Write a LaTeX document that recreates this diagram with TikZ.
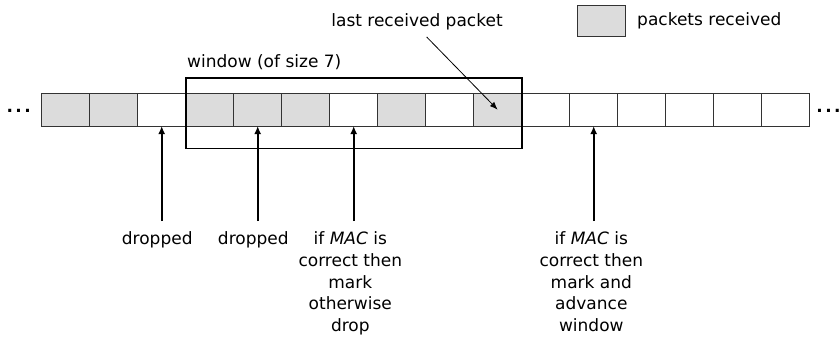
\documentclass[tikz,border=0pt]{standalone}
\usepackage{fontspec}
\setmainfont{DejaVu Sans}
\usetikzlibrary{arrows.meta}
\definecolor{recvgray}{HTML}{DCDCDC}
\definecolor{cellline}{HTML}{333333}
\begin{document}
\begin{tikzpicture}[x=1pt,y=-1pt,
  cell/.style={draw=cellline,line width=0.9pt,minimum width=48pt,minimum height=32.5pt,inner sep=0pt,outer sep=0pt},
  got/.style={cell,fill=recvgray},
  lbl/.style={font=\fontsize{17}{21.7}\selectfont,inner sep=0pt,align=center},
  dots/.style={font=\bfseries\fontsize{17}{20}\selectfont,inner sep=0pt},
  uparrow/.style={line width=1.9pt,-{Latex[length=8pt,width=7pt]}},
  pointer/.style={line width=0.8pt,-{Latex[length=8pt,width=6pt]}}]
\useasboundingbox (0,0) rectangle (840,337);

% the sequence of packet slots
\foreach \i/\s in {1/got,2/got,3/cell,4/got,5/got,6/got,7/cell,8/got,
                   9/cell,10/got,11/cell,12/cell,13/cell,14/cell,15/cell,16/cell}
  \node[\s] (p\i) at ({17.7+48*\i},109.75) {};

% continuation marks
\node[dots] (ldots) at (18.7,111) {.\hspace{2.5pt}.\hspace{2.5pt}.};
\node[dots] (rdots) at (828.5,111) {.\hspace{2.5pt}.\hspace{2.5pt}.};

% sliding window over slots 4..10
\node[draw,line width=1.9pt,minimum width=336pt,minimum height=70.5pt,inner sep=0pt] (win) at (353.7,113.25) {};
\node[lbl,anchor=base west] (winlbl) at (187,67.5) {window (of size 7)};

% legend
\node[got,minimum height=31pt] (key) at (601.5,21.2) {};
\node[lbl,anchor=base west] (keylbl) at (637,25.5) {packets received};

% last received packet pointer
\node[lbl,anchor=base] (lastlbl) at (417,26.5) {last received packet};
\coordinate (ptail) at (426.7,37);
\draw[pointer] (ptail) -- (p10.center);

% annotations below the slots
\node[lbl,anchor=north] (l3) at (157.2,231.6) {dropped};
\node[lbl,anchor=north] (l5) at (253.3,231.6) {dropped};
\node[lbl,anchor=north] (l7) at (350.3,231.6) {if \textit{MAC} is\\correct then\\mark\\otherwise\\drop};
\node[lbl,anchor=north] (l12) at (591.3,231.6) {if \textit{MAC} is\\correct then\\mark and\\advance\\window};

\coordinate (a3) at (161.7,221);
\coordinate (a5) at (257.7,221);
\coordinate (a7) at (353.7,221);
\coordinate (a12) at (593.7,221);
\draw[uparrow] (a3) -- (p3.south);
\draw[uparrow] (a5) -- (p5.south);
\draw[uparrow] (a7) -- (p7.south);
\draw[uparrow] (a12) -- (p12.south);
\end{tikzpicture}
\end{document}
